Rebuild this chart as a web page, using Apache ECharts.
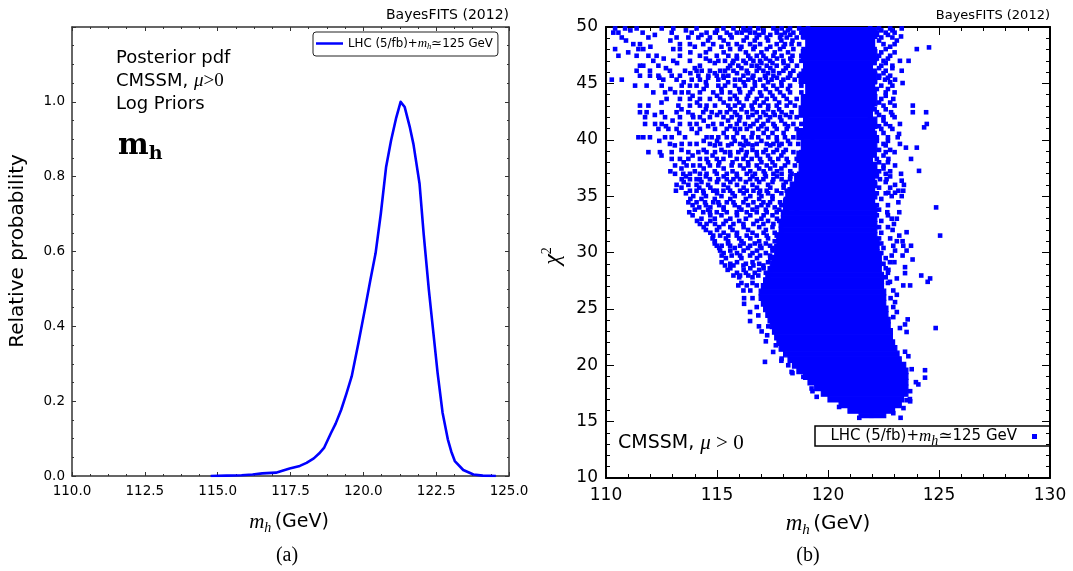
<!DOCTYPE html>
<html>
<head>
<meta charset="utf-8">
<script src="https://cdn.jsdelivr.net/npm/echarts/dist/echarts.min.js"></script>
<style>
html,body{margin:0;padding:0;background:#fff;}
#chart{width:1073px;height:571px;}
</style>
</head>
<body>
<div id="chart"></div>
<script>
// ---------- Panel (a): posterior pdf of m_h ----------
const mhValues = [114.76,115.3,115.82,116.2,116.53,117.0,117.47,117.82,118.05,118.30,118.48,118.65,118.89,119.05,119.24,119.42,119.60,119.83,120.07,120.24,120.42,120.60,120.78,120.95,121.13,121.28,121.42,121.60,121.72,121.93,122.07,122.25,122.37,122.55,122.72,122.90,123.02,123.14,123.43,123.78,124.1,124.55];
const probValues = [0,0.001,0.002,0.004,0.007,0.009,0.02,0.027,0.035,0.047,0.06,0.075,0.115,0.14,0.177,0.22,0.266,0.355,0.452,0.523,0.595,0.701,0.825,0.896,0.958,1.0,0.986,0.931,0.887,0.781,0.648,0.497,0.408,0.275,0.169,0.098,0.065,0.040,0.016,0.004,0.001,0.0];
const leftXTicks = [110.0,112.5,115.0,117.5,120.0,122.5,125.0];
const leftYTicks = [0.0,0.2,0.4,0.6,0.8,1.0];

// ---------- Panel (b): chi^2 vs m_h scan points ----------
// dense, fully covered part of the cloud: [chi2 low, chi2 high, m_h left, m_h right]
const coreRows = [
[15.35,15.75,121.4,122.6],[15.75,16.25,120.9,123.0],[16.25,16.75,120.5,123.3],[16.75,17.25,120.0,123.4],
[17.25,17.75,119.7,123.6],[17.75,18.25,119.4,123.6],[18.25,18.75,119.1,123.6],[18.75,19.25,118.9,123.6],
[19.25,19.75,118.6,123.6],[19.75,20.25,118.4,123.5],[20.25,20.75,118.2,123.3],[20.75,21.25,118.0,123.2],
[21.25,21.75,117.8,123.1],[21.75,22.25,117.7,123.0],[22.25,22.75,117.6,122.9],[22.75,23.25,117.5,122.9],
[23.25,23.75,117.4,122.8],[23.75,24.25,117.3,122.8],[24.25,24.75,117.2,122.7],[24.75,25.25,117.1,122.7],
[25.25,25.75,117.0,122.6],[25.75,26.25,116.9,122.6],[26.25,26.75,116.9,122.6],[26.75,27.25,117.0,122.5],
[27.25,27.75,117.1,122.5],[27.75,28.25,117.2,122.5],[28.25,28.75,117.3,122.4],[28.75,29.25,117.4,122.4],
[29.25,29.75,117.5,122.4],[29.75,30.25,117.6,122.3],[30.25,30.75,117.6,122.3],[30.75,31.25,117.7,122.3],
[31.25,31.75,117.7,122.2],[31.75,32.25,117.8,122.2],[32.25,32.75,117.8,122.2],[32.75,33.25,117.9,122.2],
[33.25,33.75,117.9,122.2],[33.75,34.25,118.0,122.2],[34.25,34.75,118.0,122.1],[34.75,35.25,118.1,122.2],
[35.25,35.75,118.2,122.1],[35.75,36.25,118.3,122.2],[36.25,37.0,118.5,122.1],[37.0,38.0,118.7,122.2],
[38.0,39.0,118.6,122.0],[39.0,40.0,118.8,122.2],[40.0,41.0,118.6,122.1],[41.0,42.0,118.9,122.2],
[42.0,43.0,118.7,122.0],[43.0,44.0,118.8,122.2],[44.0,45.0,119.0,122.1],[45.0,46.0,118.7,122.2],
[46.0,47.0,118.9,122.0],[47.0,48.0,118.8,122.2],[48.0,49.0,119.0,122.1],[49.0,50.0,118.8,122.2]
];
// scattered points, grouped by chi2 row: [chi2, m_h, m_h, ...]
const upperRows = [
[49.87,110.41,110.86,111.38,112.51,113.03,114.08,115.29,115.74,116.19,116.49,116.86,117.54,117.91,118.29,118.7,119.1,121.9,122.3,122.8,123.32],
[49.7,111.1,113.6,115.0,116.3,117.1,117.7,118.2,122.4,122.9],
[49.5,110.33,110.56,111.65,112.96,113.86,114.53,114.91,115.44,115.89,116.11,116.49,116.71,117.09,117.69,118.06,118.44,118.8,119.3,121.8,122.2,122.6,123.0],
[49.3,112.2,114.3,115.6,116.9,117.4,117.9,118.3,122.2,122.7],
[49.16,123.29],
[49.07,110.71,111.91,113.18,113.71,114.16,114.68,115.14,115.66,116.34,116.79,117.24,117.84,118.14,118.59,118.9,122.0,122.4,122.9],
[48.8,110.9,112.9,114.6,115.3,116.2,116.7,117.3,117.9,118.4,122.3,123.1],
[48.48,111.23,111.53,113.33,113.78,114.38,114.83,115.51,115.89,116.49,116.94,117.69,118.06,118.36,118.7,119.2,121.9,122.5,123.0],
[48.25,112.0,114.0,115.2,116.1,116.7,117.4,118.0,122.0,122.8],
[48.04,110.41,111.46,111.68,113.03,113.33,114.68,115.59,116.04,116.64,117.24,117.84,118.44,118.9,122.1,122.6,124.0],
[48.19,124.55],
[47.75,111.0,113.8,114.5,115.3,116.3,117.0,117.6,118.2,122.4,123.0],
[47.45,110.56,111.38,111.91,112.28,113.33,114.23,114.99,115.51,115.89,116.41,116.79,117.09,117.54,117.91,118.4,118.8,119.3,121.8,122.3,122.8],
[47.2,112.6,114.5,115.9,116.5,117.2,117.7,118.3,122.2,122.7],
[47.0,112.13,113.03,113.78,114.68,115.06,115.36,115.74,116.19,116.64,116.94,117.39,117.99,118.36,118.8,122.0,122.5,123.24,123.63],
[46.8,113.2,114.9,115.7,116.3,117.0,117.5,118.0,122.1,122.6],
[46.57,111.53,111.68,112.36,114.23,115.59,115.96,116.56,116.79,117.24,117.69,118.2,118.6,119.1,121.9,122.4,122.9],
[46.35,112.7,114.0,115.5,116.1,116.9,117.4,118.1,122.3,122.9],
[46.12,111.38,111.98,112.88,113.56,114.08,114.31,114.68,115.14,115.36,115.74,116.34,116.79,117.09,117.54,117.99,118.44,118.9,122.1,122.6,123.32],
[45.9,113.8,114.9,115.9,116.4,117.3,117.8,118.3,122.0,122.5],
[45.68,111.53,111.98,112.36,112.96,113.33,114.16,114.61,114.99,115.29,115.51,116.19,116.64,117.16,117.54,118.29,118.7,119.2,121.8,122.3,122.8],
[45.5,112.4,114.6,115.3,116.6,117.2,117.7,118.2,122.3,122.7],
[45.33,110.26,110.71,112.58,113.18,113.86,114.23,115.06,115.81,116.04,116.41,116.94,117.46,117.99,118.5,119.0,122.0,122.57,123.02],
[45.1,113.5,114.5,115.5,116.2,116.7,117.3,117.9,122.1,122.8],
[45.03,123.36],
[44.8,111.31,111.83,112.51,113.41,113.78,114.08,114.53,115.06,115.36,115.81,116.26,116.71,117.09,117.54,117.91,118.29,118.8,121.9,122.4,122.9],
[44.5,112.9,114.4,115.2,116.0,116.6,117.2,117.7,118.2,122.2,122.7],
[44.2,112.13,112.66,113.11,113.41,113.71,114.23,114.83,115.21,115.59,116.04,116.49,116.94,117.39,117.84,118.29,118.8,119.3,122.1,122.6,123.0],
[43.9,113.9,115.0,115.8,116.4,117.0,117.5,118.0,122.0,122.6],
[43.62,112.73,113.33,113.78,114.23,114.68,115.14,115.59,115.89,116.34,116.79,117.24,117.61,118.14,118.59,119.0,121.9,122.4,122.94],
[43.3,112.5,114.1,115.3,116.0,116.7,117.1,117.8,118.3,122.3,122.8],
[43.03,111.53,111.91,113.26,113.78,114.23,114.53,114.91,115.51,115.81,116.19,116.56,116.94,117.31,117.69,118.14,118.51,118.9,122.0,122.5,123.0,123.82],
[42.7,113.4,114.5,115.6,116.1,116.6,117.3,117.8,122.1,122.6],
[42.44,111.53,111.83,112.51,113.18,113.71,114.38,114.76,115.14,115.44,115.81,116.34,116.79,117.09,117.54,117.91,118.36,118.8,119.3,122.2,122.84,123.82,124.42],
[42.2,112.2,113.9,115.0,115.9,116.6,117.2,117.6,118.1,122.3,122.9],
[42.0,111.76,112.66,113.33,113.93,114.23,114.68,115.29,115.66,116.04,116.41,116.94,117.39,117.84,118.29,118.59,119.0,121.9,122.5,123.0],
[41.7,113.0,114.4,115.5,116.0,116.8,117.3,117.9,122.0,122.5],
[41.4,111.76,112.21,112.51,113.33,113.78,114.08,114.83,115.21,115.89,116.26,116.64,117.09,117.54,118.06,118.44,118.8,119.2,122.1,122.6,123.24,124.45],
[41.2,112.7,114.6,115.6,116.5,117.0,117.6,118.2,122.3,122.8],
[41.1,124.33],
[40.96,112.36,112.81,113.18,113.86,114.23,114.91,115.44,115.81,116.04,116.34,116.86,117.24,117.69,118.14,118.59,119.0,122.0,122.4,122.9],
[40.6,113.3,114.1,115.3,115.9,116.6,117.1,117.5,118.0,122.1,122.5],
[40.52,123.2],
[40.22,111.46,111.68,111.98,112.66,112.96,113.56,114.53,114.76,115.06,115.44,115.74,116.19,116.56,116.86,117.31,117.69,118.06,118.44,118.8,119.3,122.2,122.7,123.14],
[39.9,112.4,114.4,115.0,115.8,116.3,117.0,117.7,118.2,122.2,122.7],
[39.63,112.88,113.41,113.78,114.08,114.68,115.14,115.66,116.04,116.41,116.79,117.24,117.54,117.91,118.29,118.66,119.1,121.9,122.5,123.24],
[39.5,113.1,114.9,115.5,116.2,116.6,117.4,117.8,122.0,122.6],
[39.3,123.51,124.0],
[39.1,113.4,114.4,115.2,116.1,116.6,117.2,117.7,118.1,122.3,122.8],
[38.9,111.91,112.43,112.96,113.71,114.16,114.53,114.91,115.36,115.59,115.96,116.34,116.79,117.09,117.54,117.99,118.44,118.8,119.3,122.1,122.6,123.0],
[38.6,112.5,113.9,114.8,115.6,116.3,116.8,117.3,117.9,122.1,122.5],
[38.3,112.96,113.33,113.71,114.23,114.53,114.99,115.29,115.89,116.19,116.56,116.94,117.39,117.76,118.14,118.59,119.0,122.2,122.72,123.74],
[38.0,113.5,114.6,115.1,115.7,116.4,117.0,117.5,118.2,122.3,122.7],
[37.72,113.11,113.63,113.93,114.23,114.68,115.06,115.66,116.04,116.41,116.79,117.24,117.61,118.06,118.51,118.8,119.3,122.0,122.5,123.02],
[37.45,113.4,114.4,115.3,116.2,116.9,117.4,117.9,122.1,122.5],
[37.24,124.1],
[37.2,112.9,114.0,114.9,115.7,116.5,117.1,117.7,118.3,122.3,122.8],
[36.98,113.11,113.48,113.78,114.23,114.53,114.99,115.44,115.89,116.34,116.71,117.16,117.54,117.91,118.36,118.7,119.1,122.2,122.6,123.29]
];
const midRows = [
[36.75,113.6,114.5,115.3,115.9,116.6,117.2,117.7,118.3,122.2,122.8],
[36.5,113.41,113.78,114.08,114.23,114.68,115.06,115.44,115.74,116.04,116.49,116.79,117.09,117.54,117.91,118.29,118.7,119.1,122.34,122.64],
[36.37,123.32],
[36.25,113.5,114.3,115.0,115.6,116.3,116.9,117.5,118.1,122.1,122.6],
[36.0,113.18,113.71,114.08,114.6,115.3,115.9,116.6,117.3,118.0,118.5,119.0,123.02,123.42],
[35.75,113.4,114.2,114.7,115.5,116.2,116.8,117.4,118.0,122.3,122.8],
[35.48,113.15,113.78,114.08,114.38,114.83,114.99,115.29,115.59,116.04,116.34,116.64,116.94,117.24,117.69,118.14,118.59,119.0,123.17,123.39],
[35.3,122.72,123.02],
[35.25,113.6,114.4,115.0,115.7,116.2,116.9,117.3,117.9,122.2,122.6],
[35.0,113.93,114.5,115.2,115.8,116.5,117.0,117.5,118.3,118.8,122.87,123.32],
[34.75,113.8,114.3,114.9,115.6,116.3,116.9,117.5,118.1,122.4],
[34.45,113.71,114.08,114.46,114.83,115.06,115.44,115.74,116.19,116.64,117.09,117.39,117.84,118.29,118.7,123.17],
[34.2,113.9,114.5,115.1,115.8,116.4,117.0,117.3,117.9,122.2,122.7],
[34.0,114.2,114.7,115.3,116.0,116.8,117.6,118.2,124.87],
[33.8,114.0,114.6,115.3,116.1,116.6,117.2,117.8,122.3],
[33.57,113.75,114.38,114.68,114.99,115.44,115.89,116.34,116.79,117.24,117.69,118.14,118.6,122.67,123.21],
[33.3,113.9,114.7,115.2,115.9,116.5,117.1,117.5,122.2,122.7],
[33.0,114.3,114.9,115.6,116.3,117.0,117.7,118.3,123.1,122.87],
[32.8,114.1,114.7,115.4,116.0,116.8,117.3,117.8,122.4],
[32.53,114.23,114.53,114.91,115.29,115.74,116.19,116.64,117.09,117.54,117.99,118.44,122.97],
[32.25,114.4,115.1,115.6,116.2,116.9,117.5,122.3,122.7],
[32.0,114.5,115.0,115.7,116.4,117.2,117.9,122.91],
[31.8,123.54],
[31.75,114.7,115.3,115.9,116.6,117.1,117.6,122.4],
[31.5,114.83,115.14,115.51,115.89,116.34,116.79,117.24,117.69,118.14,123.21,125.05],
[31.25,114.8,115.4,116.0,116.5,117.3,122.3,122.8],
[31.0,114.9,115.5,116.1,116.9,117.6,123.1,123.36],
[30.8,114.9,115.5,116.2,116.7,117.2,122.4],
[30.6,114.99,115.21,115.59,116.04,116.49,116.94,117.39,117.84,123.39,123.74,122.94],
[30.4,115.1,115.8,116.4,117.0,117.5,122.5],
[30.17,115.14,115.6,116.2,116.8,117.5,117.9,123.54,123.02],
[29.95,115.3,115.9,116.6,117.2,122.4],
[29.73,115.21,115.66,116.04,116.49,116.94,117.39,117.84,122.87,123.36],
[29.5,115.4,116.1,116.8,117.4,122.6],
[29.38,123.81],
[29.14,115.21,115.9,116.6,117.3,117.7,122.79,122.99],
[29.0,115.6,116.3,116.9,122.5],
[28.85,115.36,115.74,116.19,116.64,117.09,117.54],
[28.7,123.47],
[28.6,115.6,116.5,117.1,122.6],
[28.46,115.48,116.2,116.9,117.4,122.72],
[28.2,115.9,116.3,116.7,117.2,122.7],
[28.17,123.47],
[27.96,115.74,116.04,116.41,116.86,117.31,124.2],
[27.8,116.0,116.6,122.6],
[27.7,124.6,123.1],
[27.4,124.49,122.79],
[27.3,116.1,116.6,122.7],
[27.08,115.96,116.34,116.79,123.7,123.39],
[26.63,116.19,116.5,122.94],
[26.25,123.1],
[25.95,116.22,116.6,122.82],
[25.6,123.02],
[25.45,116.22],
[25.16,116.79,122.94],
[24.72,116.49,123.1],
[24.42,116.86],
[24.27,122.94],
[24.07,123.59],
[23.92,116.49],
[23.62,123.47],
[23.45,116.89,117.31],
[23.3,123.24,124.85]
];
const lowerPoints = [
[117.01,23.0],[117.26,22.66],[117.2,22.12],[117.16,20.3],[117.53,21.18],[117.65,21.77],[117.91,20.59],
[118.21,20.0],[118.36,19.41],[118.89,18.97],[119.26,17.94],[119.49,17.2],[119.94,17.49],[121.41,15.34],
[121.96,15.52],[120.5,16.3],[119.3,17.7],[118.4,19.3],[117.9,20.4],
[123.27,15.34],[122.94,15.75],[123.54,16.9],[123.69,17.0],[124.37,19.56],[124.37,18.9],[123.96,18.5],
[124.07,18.3],[123.77,19.65],[123.62,20.8],[123.47,21.2],[123.54,22.95],[123.7,17.7],[123.7,16.8],[123.4,16.2]
];
const rightXTicks = [110,115,120,125,130];
const rightYTicks = [10,15,20,25,30,35,40,45,50];

// ---------- build ----------
const curveData = mhValues.map((x, i) => [x, probValues[i]]);
const scatterData = [];
[upperRows, midRows].forEach(rows => rows.forEach(r => r.slice(1).forEach(x => scatterData.push([x, r[0]]))));
lowerPoints.forEach(p => scatterData.push(p));

const BLUE = '#0000ff';
const SANS = '"DejaVu Sans", sans-serif';
const SERIF = '"DejaVu Serif", "Liberation Serif", serif';
const MATH = '"Liberation Serif", "DejaVu Serif", serif';

function axisCommon(color, lw, majorLen, minorLen, minorSplit) {
  return {
    axisLine: {show: true, onZero: false, lineStyle: {color: color, width: lw}},
    axisTick: {show: true, inside: true, length: majorLen, lineStyle: {color: color, width: 1}},
    minorTick: {show: true, splitNumber: minorSplit, length: minorLen, lineStyle: {color: color, width: 1}},
    splitLine: {show: false}, minorSplitLine: {show: false}
  };
}

const leftX = Object.assign({type: 'value', gridIndex: 0, min: leftXTicks[0], max: leftXTicks[leftXTicks.length-1], interval: 2.5,
  axisLabel: {show: true, margin: 8, color: '#000', fontFamily: SANS, fontSize: 13.5, formatter: v => v.toFixed(1)}},
  axisCommon('#333', 1.5, 4, 2, 4));
const leftXTop = Object.assign({}, leftX, {position: 'top', axisLabel: {show: false}});
const leftY = Object.assign({type: 'value', gridIndex: 0, min: 0, max: 1.2, interval: 0.2,
  axisLabel: {show: true, margin: 7, color: '#000', fontFamily: SANS, fontSize: 13.5,
    formatter: v => (leftYTicks.some(t => Math.abs(t - v) < 1e-6) ? v.toFixed(1) : '')}},
  axisCommon('#333', 1.5, 4, 2, 4));
const leftYRight = Object.assign({}, leftY, {position: 'right', axisLabel: {show: false}});

const rightX = Object.assign({type: 'value', gridIndex: 1, min: rightXTicks[0], max: rightXTicks[rightXTicks.length-1], interval: 5,
  axisLabel: {show: true, margin: 9, color: '#000', fontFamily: SANS, fontSize: 17}},
  axisCommon('#000', 2, 8, 4, 5));
const rightXTop = Object.assign({}, rightX, {position: 'top', axisLabel: {show: false}});
const rightY = Object.assign({type: 'value', gridIndex: 1, min: rightYTicks[0], max: rightYTicks[rightYTicks.length-1], interval: 5,
  axisLabel: {show: true, margin: 8, color: '#000', fontFamily: SANS, fontSize: 17}},
  axisCommon('#000', 2, 8, 4, 5));
const rightYRight = Object.assign({}, rightY, {position: 'right', axisLabel: {show: false}});

const mhRich = {
  n: {fontFamily: SANS, fontSize: 19, color: '#000'},
  i: {fontFamily: MATH, fontStyle: 'italic', fontSize: 21, color: '#000'},
  s: {fontFamily: MATH, fontStyle: 'italic', fontSize: 14, color: '#000', padding: [12, 0, 0, 0]}
};
const legRichSmall = {
  n: {fontFamily: SANS, fontSize: 11.8, color: '#000'},
  i: {fontFamily: MATH, fontStyle: 'italic', fontSize: 13, color: '#000'},
  s: {fontFamily: MATH, fontStyle: 'italic', fontSize: 8.5, color: '#000', padding: [6, 0, 0, 0]},
  m: {fontFamily: MATH, fontSize: 13, color: '#000'}
};
const legRichBig = {
  n: {fontFamily: SANS, fontSize: 15, color: '#000'},
  i: {fontFamily: MATH, fontStyle: 'italic', fontSize: 17, color: '#000'},
  s: {fontFamily: MATH, fontStyle: 'italic', fontSize: 14, color: '#000', padding: [9, 0, 0, 0]},
  m: {fontFamily: MATH, fontSize: 17, color: '#000'}
};

const chart = echarts.init(document.getElementById('chart'), null, {renderer: 'canvas'});
chart.setOption({
  animation: false,
  backgroundColor: '#fff',
  grid: [
    {left: 72, right: 564, top: 27, bottom: 95, containLabel: false},
    {left: 606, right: 23, top: 27, bottom: 93, containLabel: false}
  ],
  xAxis: [leftX, leftXTop, rightX, rightXTop],
  yAxis: [leftY, leftYRight, rightY, rightYRight],
  legend: [
    {data: ['lhcLine'], left: 313, top: 32, orient: 'horizontal', icon: 'rect', itemWidth: 27, itemHeight: 2.5,
     padding: [5, 5, 5, 3], borderColor: '#222', borderWidth: 1, borderRadius: 3, backgroundColor: '#fff',
     selectedMode: false, formatter: () => '{n|LHC (5/fb)+}{i|m}{s|h}{m|≃}{n|125 GeV}',
     textStyle: {rich: legRichSmall}},
    {data: ['lhcScatter'], right: 36, top: 428, orient: 'horizontal', icon: 'rect', itemWidth: 5, itemHeight: 5,
     align: 'right', padding: [0, 0, 0, 0], selectedMode: false,
     formatter: () => '{n|LHC (5/fb)+}{i|m}{s|h}{m|≃}{n|125 GeV}   ',
     textStyle: {rich: legRichBig}}
  ],
  series: [
    {name: 'lhcLine', type: 'line', xAxisIndex: 0, yAxisIndex: 0, data: curveData, showSymbol: false, symbol: 'none',
     smooth: false, lineStyle: {color: BLUE, width: 2.6, join: 'round'}, itemStyle: {color: BLUE}, z: 3},
    {name: 'core', type: 'custom', xAxisIndex: 2, yAxisIndex: 2, data: coreRows,
     encode: {x: [2, 3], y: [0, 1]}, clip: true, silent: true,
     renderItem: function (params, api) {
       const p1 = api.coord([api.value(2), api.value(1)]);
       const p2 = api.coord([api.value(3), api.value(0)]);
       return {type: 'rect', shape: {x: p1[0], y: p1[1], width: p2[0] - p1[0], height: p2[1] - p1[1]},
               style: {fill: BLUE, stroke: BLUE, lineWidth: 1.2}};
     }},
    {name: 'lhcScatter', type: 'scatter', xAxisIndex: 2, yAxisIndex: 2, data: scatterData,
     symbol: 'rect', symbolSize: 4.6, itemStyle: {color: BLUE, opacity: 1}, clip: true, large: false, z: 3}
  ],
  graphic: [
    // panel (a)
    {type: 'text', x: 509, y: 15, style: {text: 'BayesFITS (2012)', font: '14px ' + SANS, fill: '#000', align: 'right', verticalAlign: 'middle'}},
    {type: 'text', x: 116, y: 58, style: {text: 'Posterior pdf', font: '18px ' + SANS, fill: '#000', align: 'left', verticalAlign: 'middle'}},
    {type: 'text', x: 116, y: 81, style: {text: '{n|CMSSM, }{i|μ}{m|>0}', align: 'left', verticalAlign: 'middle',
      rich: {n: {fontFamily: SANS, fontSize: 18, color: '#000'}, i: {fontFamily: MATH, fontStyle: 'italic', fontSize: 19, color: '#000'}, m: {fontFamily: MATH, fontSize: 19, color: '#000'}}}},
    {type: 'text', x: 116, y: 104, style: {text: 'Log Priors', font: '18px ' + SANS, fill: '#000', align: 'left', verticalAlign: 'middle'}},
    {type: 'text', x: 118, y: 146, style: {text: '{b|m}{s|h}', align: 'left', verticalAlign: 'middle',
      rich: {b: {fontFamily: SERIF, fontWeight: 'bold', fontSize: 29, color: '#000'}, s: {fontFamily: SERIF, fontWeight: 'bold', fontSize: 19, color: '#000', padding: [16, 0, 0, 0]}}}},
    {type: 'text', x: 18, y: 251, rotation: Math.PI / 2, style: {text: 'Relative probability', font: '20px ' + SANS, fill: '#000', align: 'center', verticalAlign: 'middle'}},
    {type: 'text', x: 289, y: 522, style: {text: '{i|m}{s|h} {n|(GeV)}', align: 'center', verticalAlign: 'middle', rich: mhRich}},
    {type: 'text', x: 287, y: 556, style: {text: '(a)', font: '20px ' + MATH, fill: '#000', align: 'center', verticalAlign: 'middle'}},
    // panel (b)
    {type: 'text', x: 1050, y: 16, style: {text: 'BayesFITS (2012)', font: '13px ' + SANS, fill: '#000', align: 'right', verticalAlign: 'middle'}},
    {type: 'text', x: 553, y: 256, rotation: Math.PI / 2, style: {text: '{c|χ}{p|2}', align: 'center', verticalAlign: 'middle',
      rich: {c: {fontFamily: MATH, fontStyle: 'italic', fontSize: 24, color: '#000'}, p: {fontFamily: MATH, fontSize: 14, color: '#000', padding: [0, 0, 12, 0]}}}},
    {type: 'text', x: 828, y: 524, style: {text: '{i|m}{s|h} {n|(GeV)}', align: 'center', verticalAlign: 'middle', rich: {
      n: {fontFamily: SANS, fontSize: 20, color: '#000'}, i: {fontFamily: MATH, fontStyle: 'italic', fontSize: 23, color: '#000'},
      s: {fontFamily: MATH, fontStyle: 'italic', fontSize: 15, color: '#000', padding: [12, 0, 0, 0]}}}},
    {type: 'text', x: 808, y: 556, style: {text: '(b)', font: '20px ' + MATH, fill: '#000', align: 'center', verticalAlign: 'middle'}},
    {type: 'text', x: 618, y: 443, style: {text: '{n|CMSSM, }{i|μ}{m| > 0}', align: 'left', verticalAlign: 'middle',
      rich: {n: {fontFamily: SANS, fontSize: 19, color: '#000'}, i: {fontFamily: MATH, fontStyle: 'italic', fontSize: 21, color: '#000'}, m: {fontFamily: MATH, fontSize: 21, color: '#000'}}}},
    {type: 'rect', shape: {x: 815, y: 426, width: 235, height: 20}, style: {fill: 'rgba(0,0,0,0)', stroke: '#000', lineWidth: 1.5}, z: 10}
  ]
});
</script>
</body>
</html>
